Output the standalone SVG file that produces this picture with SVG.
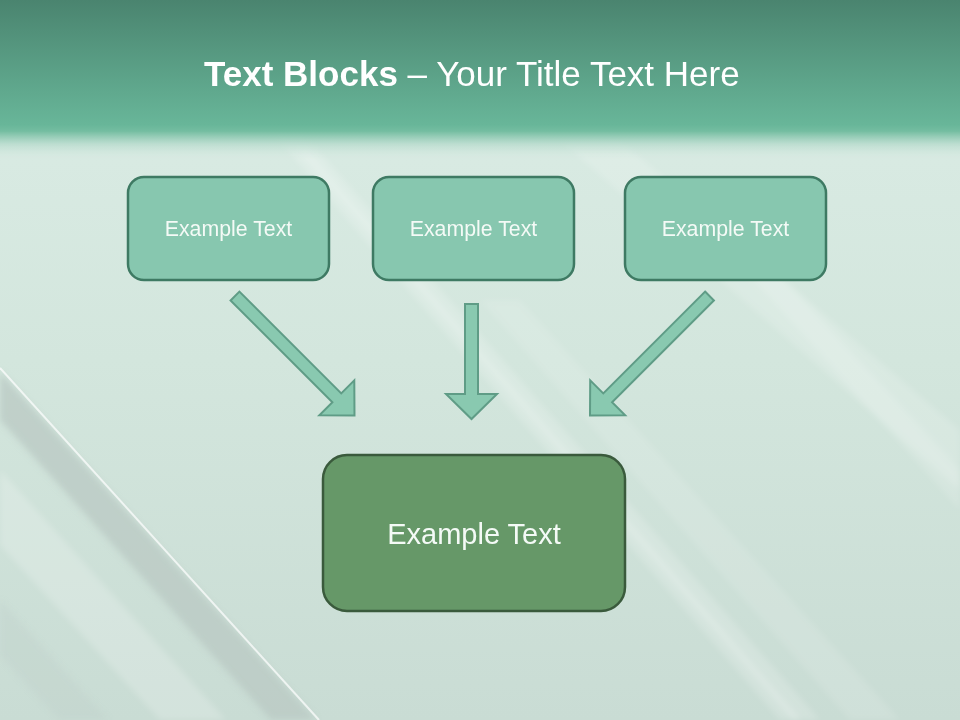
<svg xmlns="http://www.w3.org/2000/svg" width="960" height="720" viewBox="0 0 960 720">
  <defs>
    <linearGradient id="bg" x1="0" y1="0" x2="0" y2="1">
      <stop offset="0" stop-color="#DCEDE6"/>
      <stop offset="0.5" stop-color="#D3E6DD"/>
      <stop offset="1" stop-color="#C9DCD4"/>
    </linearGradient>
    <linearGradient id="hdr" x1="0" y1="0" x2="0" y2="160" gradientUnits="userSpaceOnUse">
      <stop offset="0" stop-color="#4A846F"/>
      <stop offset="0.78" stop-color="#68B699"/>
      <stop offset="0.82" stop-color="#74BDA1"/>
      <stop offset="0.9" stop-color="#B5DACB" stop-opacity="0.8"/>
      <stop offset="1" stop-color="#D8EBE3" stop-opacity="0"/>
    </linearGradient>
    <filter id="soft" x="-10%" y="-10%" width="120%" height="120%">
      <feGaussianBlur stdDeviation="3"/>
    </filter>
    <style>
      .top { fill: #87C7AF; stroke: #3E7A63; stroke-width: 2.5; }
      .bot { fill: #669868; stroke: #3A5A3C; stroke-width: 2.5; }
      .arrow { fill: #89C9B0; stroke: #5F9C86; stroke-width: 2; stroke-linejoin: miter; }
      .lbl { font-family: "Liberation Sans", Arial, sans-serif; fill: #F4FAF6; text-anchor: middle; }
      .streak { fill: #FFFFFF; }
    </style>
  </defs>

  <!-- background -->
  <rect x="0" y="0" width="960" height="720" fill="url(#bg)"/>
  <!-- diagonal streaks -->
  <g filter="url(#soft)">
    <polygon class="streak" opacity="0.18" points="270,130 300,130 820,720 780,720"/>
    <polygon class="streak" opacity="0.25" points="300,150 305,150 800,720 794,720"/>
    <polygon class="streak" opacity="0.16" points="560,140 620,140 960,430 960,490"/>
    <polygon class="streak" opacity="0.14" points="700,220 730,220 960,470 960,510"/>
    <polygon class="streak" opacity="0.12" points="480,300 520,300 900,720 850,720"/>
    <polygon fill="#B9C8C3" opacity="0.75" points="0,372 316,720 271,720 0,420"/>
    <polygon class="streak" opacity="0.2" points="0,470 226,720 160,720 0,545"/>
    <polygon fill="#BCCCC6" opacity="0.3" points="0,600 108,720 60,720 0,655"/>
  </g>
  <line x1="0" y1="368" x2="319" y2="720" stroke="#FFFFFF" stroke-opacity="0.7" stroke-width="2"/>

  <!-- header band -->
  <rect x="0" y="0" width="960" height="160" fill="url(#hdr)"/>

  <!-- title -->
  <text x="204" y="86" font-family="Liberation Sans, Arial, sans-serif" font-size="35" fill="#FFFFFF"><tspan font-weight="bold">Text Blocks</tspan> – Your Title Text Here</text>

  <!-- connectors -->
  <g id="connectors">
    <path class="arrow" transform="translate(235,296) rotate(-45)" d="M-6.25,0 L6.25,0 L6.25,144 L24.7,144 L0,169 L-24.7,144 L-6.25,144 Z"/>
    <path class="arrow" d="M465,304 L478,304 L478,394 L497,394 L471.5,419 L446,394 L465,394 Z"/>
    <path class="arrow" transform="translate(709.5,296) rotate(45)" d="M-6.25,0 L6.25,0 L6.25,144 L24.7,144 L0,169 L-24.7,144 L-6.25,144 Z"/>
  </g>

  <!-- nodes -->
  <g id="node1">
    <rect class="top" x="128" y="177" width="201" height="103" rx="16"/>
    <text class="lbl" x="228.5" y="236" font-size="21.3">Example Text</text>
  </g>
  <g id="node2">
    <rect class="top" x="373" y="177" width="201" height="103" rx="16"/>
    <text class="lbl" x="473.5" y="236" font-size="21.3">Example Text</text>
  </g>
  <g id="node3">
    <rect class="top" x="625" y="177" width="201" height="103" rx="16"/>
    <text class="lbl" x="725.5" y="236" font-size="21.3">Example Text</text>
  </g>
  <g id="node4">
    <rect class="bot" x="323" y="455" width="302" height="156" rx="24"/>
    <text class="lbl" x="474" y="544" font-size="29">Example Text</text>
  </g>
</svg>
